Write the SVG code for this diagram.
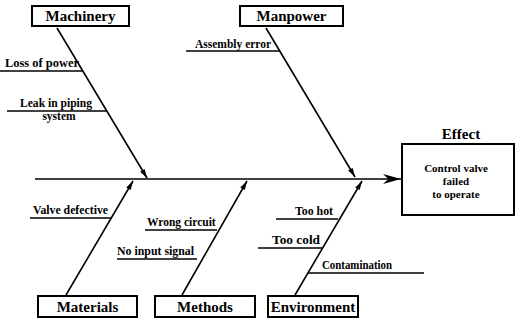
<svg xmlns="http://www.w3.org/2000/svg" width="516" height="323" viewBox="0 0 516 323">
<style>
.box{fill:#fff;stroke:#000;stroke-width:2}
.lbl{font-family:'Liberation Serif','Times New Roman',serif;font-weight:bold;font-size:15px;fill:#000}
.t{font-family:'Liberation Serif','Times New Roman',serif;font-weight:bold;font-size:11.5px;fill:#000}
.e{font-family:'Liberation Serif','Times New Roman',serif;font-weight:bold;font-size:11px;fill:#000}
.ln{stroke:#000;stroke-width:1.6;fill:none}
.sub{stroke:#000;stroke-width:1.4;fill:none}
</style>
<defs>
<marker id="ah" viewBox="0 0 12 8" refX="12" refY="4" markerWidth="10" markerHeight="6" markerUnits="userSpaceOnUse" orient="auto"><path d="M0,0.5 L12,4 L0,7.5 z" fill="#000"/></marker>
<marker id="big" viewBox="0 0 10 10" refX="10" refY="5" markerWidth="18" markerHeight="10" markerUnits="userSpaceOnUse" orient="auto" preserveAspectRatio="none"><path d="M0,0 L10,5 L0,10 L3,5 z" fill="#000"/></marker>
</defs>
<rect width="516" height="323" fill="#fff"/>
<g id="connectors">
<line class="ln" x1="35" y1="179" x2="401" y2="179" stroke-width="2.5" marker-end="url(#big)"/>
<line class="ln" x1="57" y1="28" x2="147" y2="178" marker-end="url(#ah)"/>
<line class="ln" x1="266" y1="28" x2="355" y2="177" marker-end="url(#ah)"/>
<line class="ln" x1="66" y1="295" x2="133" y2="181" marker-end="url(#ah)"/>
<line class="ln" x1="182" y1="295" x2="247" y2="181" marker-end="url(#ah)"/>
<line class="ln" x1="295" y1="295" x2="362" y2="181" marker-end="url(#ah)"/>
</g>
<g id="machinery">
<rect class="box" x="32" y="6" width="97" height="20"/>
<text class="lbl" x="80.5" y="21" text-anchor="middle">Machinery</text>
</g>
<g id="manpower">
<rect class="box" x="240" y="6" width="103" height="20"/>
<text class="lbl" x="291.5" y="21" text-anchor="middle">Manpower</text>
</g>
<g id="materials">
<rect class="box" x="38" y="296" width="99" height="21"/>
<text class="lbl" x="87.5" y="312" text-anchor="middle">Materials</text>
</g>
<g id="methods">
<rect class="box" x="155" y="296" width="100" height="21"/>
<text class="lbl" x="205" y="312" text-anchor="middle">Methods</text>
</g>
<g id="environment">
<rect class="box" x="268" y="296" width="90" height="21"/>
<text class="lbl" x="313" y="312" text-anchor="middle">Environment</text>
</g>
<g id="effect">
<text class="lbl" x="461" y="139" text-anchor="middle">Effect</text>
<rect class="box" x="402" y="144" width="112" height="71"/>
<text class="e" x="456" y="172" text-anchor="middle">Control valve</text>
<text class="e" x="456" y="185" text-anchor="middle">failed</text>
<text class="e" x="456" y="198" text-anchor="middle">to operate</text>
</g>
<g id="causes">
<line class="sub" x1="0" y1="71" x2="82" y2="71"/>
<text class="t" x="5" y="67" textLength="74" lengthAdjust="spacingAndGlyphs">Loss of power</text>
<line class="sub" x1="7" y1="111" x2="106" y2="111"/>
<text class="t" x="20" y="107" textLength="72" lengthAdjust="spacingAndGlyphs">Leak in piping</text>
<text class="t" x="59" y="120" text-anchor="middle">system</text>
<line class="sub" x1="186" y1="51" x2="280" y2="51"/>
<text class="t" x="195" y="48">Assembly error</text>
<line class="sub" x1="30" y1="218" x2="111" y2="218"/>
<text class="t" x="33" y="214" textLength="75" lengthAdjust="spacingAndGlyphs">Valve defective</text>
<line class="sub" x1="145" y1="230" x2="217" y2="230"/>
<text class="t" x="147" y="226">Wrong circuit</text>
<line class="sub" x1="117" y1="259" x2="197" y2="259"/>
<text class="t" x="117" y="255" textLength="77" lengthAdjust="spacingAndGlyphs">No input signal</text>
<line class="sub" x1="276" y1="219" x2="338" y2="219"/>
<text class="t" x="295" y="215" textLength="38" lengthAdjust="spacingAndGlyphs">Too hot</text>
<line class="sub" x1="258" y1="248" x2="322" y2="248"/>
<text class="t" x="272" y="244" textLength="48" lengthAdjust="spacingAndGlyphs">Too cold</text>
<line class="sub" x1="308" y1="273" x2="424" y2="273"/>
<text class="t" x="322" y="269" textLength="70" lengthAdjust="spacingAndGlyphs">Contamination</text>
</g>
</svg>
